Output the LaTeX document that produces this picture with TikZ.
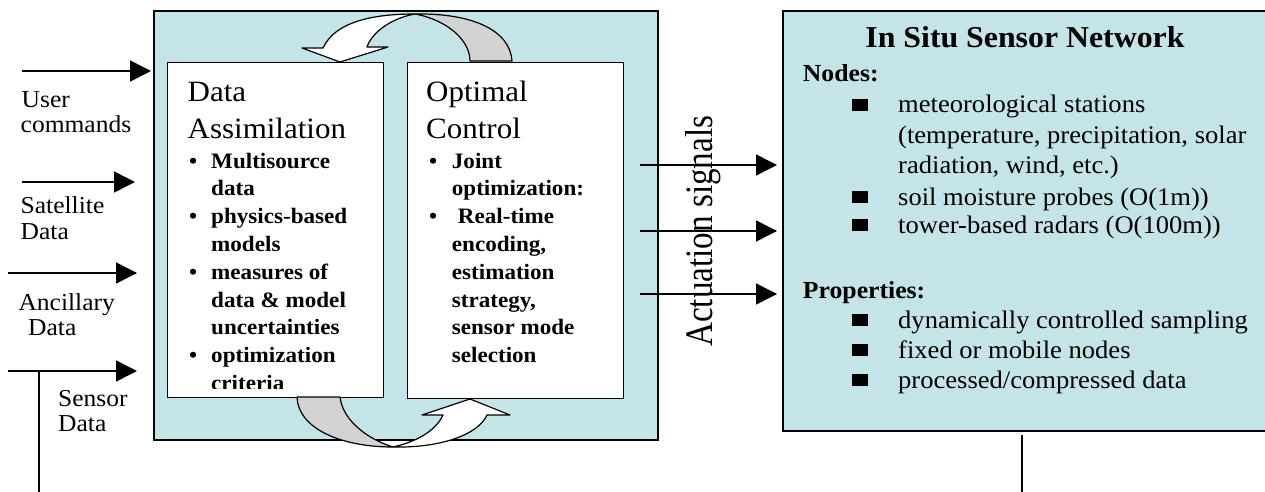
\documentclass[tikz,border=0pt]{standalone}
\usepackage{fontspec}
\setmainfont[FakeStretch=1.05]{Liberation Serif}
\newfontfamily\rotfont[FakeStretch=0.85]{Liberation Serif}
\usetikzlibrary{arrows.meta}
\definecolor{boxcyan}{HTML}{C4E4E7}
\definecolor{ribbongrey}{HTML}{D3D3D3}
\begin{document}
\begin{tikzpicture}[x=1pt,y=-1pt,
  panel/.style={draw=black,line width=1.6pt,anchor=north west,inner sep=0pt},
  inarrow/.style={line width=1.5pt,-{Triangle[length=21pt,width=21pt]}},
  plainline/.style={line width=1.3pt},
  lbl/.style={anchor=base west,inner sep=0pt,font=\fontsize{24.3}{25}\selectfont},
  bigtxt/.style={anchor=base west,inner sep=0pt,font=\fontsize{29.5}{32}\selectfont},
  bul/.style={anchor=base west,inner sep=0pt,font=\bfseries\fontsize{22}{27}\selectfont},
  rtxt/.style={anchor=base west,inner sep=0pt,font=\fontsize{25.3}{30}\selectfont},
  rhead/.style={anchor=base west,inner sep=0pt,font=\bfseries\fontsize{24.5}{30}\selectfont},
  ribbon/.style={draw=black,line width=1.2pt,line join=round}
]
\useasboundingbox (0,0) rectangle (1265,492);
\fill[white] (0,0) rectangle (1265,492);

% panels
\node[panel,fill=boxcyan,minimum width=504pt,minimum height=429pt] (ctrl) at (153,10) {};
\node[panel,fill=boxcyan,minimum width=490pt,minimum height=420pt] (net) at (782,10) {};
\node[panel,fill=white,line width=1.4pt,minimum width=216pt,minimum height=335pt] (da) at (167,62) {};
\node[panel,fill=white,line width=1.4pt,minimum width=216pt,minimum height=336pt] (oc) at (407,62) {};

% left labels
\node[lbl] (lu1) at (21.5,107) {User};
\node[lbl] (lu2) at (20.5,132) {commands};
\node[lbl] (ls1) at (20.5,213) {Satellite};
\node[lbl] (ls2) at (20.5,239) {Data};
\node[lbl] (la1) at (18.3,310) {Ancillary};
\node[lbl] (la2) at (28,335) {Data};
\node[lbl] (lse1) at (58,406.7) {Sensor};
\node[lbl] (lse2) at (58,431.7) {Data};

% Data Assimilation text (clipped)
\begin{scope}
\clip (168,63) rectangle (382,388);
\node[bigtxt] (dat1) at (187.5,101.7) {Data};
\node[bigtxt] (dat2) at (187.5,138.3) {Assimilation};
\node[bul] (dab1) at (189,168) {•};
\node[bul] (dab2) at (189,223.6) {•};
\node[bul] (dab3) at (189,279.2) {•};
\node[bul] (dab4) at (189,362.6) {•};
\node[bul] (da1) at (211,168) {Multisource};
\node[bul] (da2) at (211,195.8) {data};
\node[bul] (da3) at (211,223.6) {physics-based};
\node[bul] (da4) at (211,251.4) {models};
\node[bul] (da5) at (211,279.2) {measures of};
\node[bul] (da6) at (211,307) {data \& model};
\node[bul] (da7) at (211,334.8) {uncertainties};
\node[bul] (da8) at (211,362.6) {optimization};
\node[bul] (da9) at (211,390.4) {criteria};
\end{scope}

% Optimal Control text
\node[bigtxt] (oct1) at (426,101.7) {Optimal};
\node[bigtxt] (oct2) at (426,138.3) {Control};
\node[bul] (ocb1) at (429,168) {•};
\node[bul] (ocb2) at (429,223.6) {•};
\node[bul] (oc1) at (451.7,168) {Joint};
\node[bul] (oc2) at (451.7,195.8) {optimization:};
\node[bul] (oc3) at (457.7,223.6) {Real-time};
\node[bul] (oc4) at (451.7,251.4) {encoding,};
\node[bul] (oc5) at (451.7,279.2) {estimation};
\node[bul] (oc6) at (451.7,307) {strategy,};
\node[bul] (oc7) at (451.7,334.8) {sensor mode};
\node[bul] (oc8) at (451.7,362.6) {selection};

% Actuation label
\node[rotate=90,anchor=base west,inner sep=0pt,font=\rotfont\fontsize{39}{44}\selectfont] (act) at (712,347) {Actuation signals};

% In situ network text
\node[anchor=base,inner sep=0pt,font=\bfseries\fontsize{30.3}{32}\selectfont] (rt) at (1025,48) {In Situ Sensor Network};
\node[rhead] (rn) at (802.7,81.7) {Nodes:};
\node[rtxt] (r1) at (898,113) {meteorological stations};
\node[rtxt] (r2) at (898,143) {(temperature, precipitation, solar};
\node[rtxt] (r3) at (898,173) {radiation, wind, etc.)};
\node[rtxt] (r4) at (898,205) {soil moisture probes (O(1m))};
\node[rtxt] (r5) at (898,233) {tower-based radars (O(100m))};
\node[rhead] (rp) at (802.7,298) {Properties:};
\node[rtxt] (r6) at (898,328) {dynamically controlled sampling};
\node[rtxt] (r7) at (898,358) {fixed or mobile nodes};
\node[rtxt] (r8) at (898,388) {processed/compressed data};
\foreach \b in {113,205,233,328,358,388}
  \fill (852,\b-14) rectangle (867.5,\b-2.3);

% curved ribbon arrows
\draw[ribbon,fill=ribbongrey] (415,14) .. controls (472,13) and (510,30) .. (512,61) -- (470,61) .. controls (470,40) and (447,20) .. (415,14) -- cycle;
\draw[ribbon,fill=white] (415,14) .. controls (372,14) and (335,22) .. (323,48) -- (302,48) -- (340,62) -- (388,47) -- (367,47) .. controls (372,32) and (392,18) .. (415,14) -- cycle;
\draw[ribbon,fill=ribbongrey] (297,397) .. controls (298,428) and (340,447) .. (393,447) .. controls (370,440) and (343,422) .. (340,397) -- cycle;
\draw[ribbon,fill=white] (393,447) .. controls (440,448) and (478,435) .. (487,415) -- (510,415) -- (470,399) -- (422,415) -- (443,415) .. controls (435,432) and (415,442) .. (393,447) -- cycle;

% input arrows
\coordinate (u0) at (22,71);   \coordinate (u1) at (151,71);
\coordinate (s0) at (22,182);  \coordinate (s1) at (135,182);
\coordinate (a0) at (8,273);   \coordinate (a1) at (137,273);
\coordinate (e0) at (8,371);   \coordinate (e1) at (137,371);
\coordinate (eb) at (39,371);  \coordinate (ebot) at (39,492);
\draw[inarrow] (u0) -- (u1);
\draw[inarrow] (s0) -- (s1);
\draw[inarrow] (a0) -- (a1);
\draw[inarrow] (e0) -- (e1);
\draw[plainline] (eb) -- (ebot);

% actuation arrows
\coordinate (c10) at (640,165); \coordinate (c11) at (777,165);
\coordinate (c20) at (640,231); \coordinate (c21) at (777,231);
\coordinate (c30) at (640,294); \coordinate (c31) at (777,294);
\draw[inarrow] (c10) -- (c11);
\draw[inarrow] (c20) -- (c21);
\draw[inarrow] (c30) -- (c31);

% network output line
\coordinate (n0) at (1022,435); \coordinate (n1) at (1022,492);
\draw[plainline] (n0) -- (n1);
\end{tikzpicture}
\end{document}
